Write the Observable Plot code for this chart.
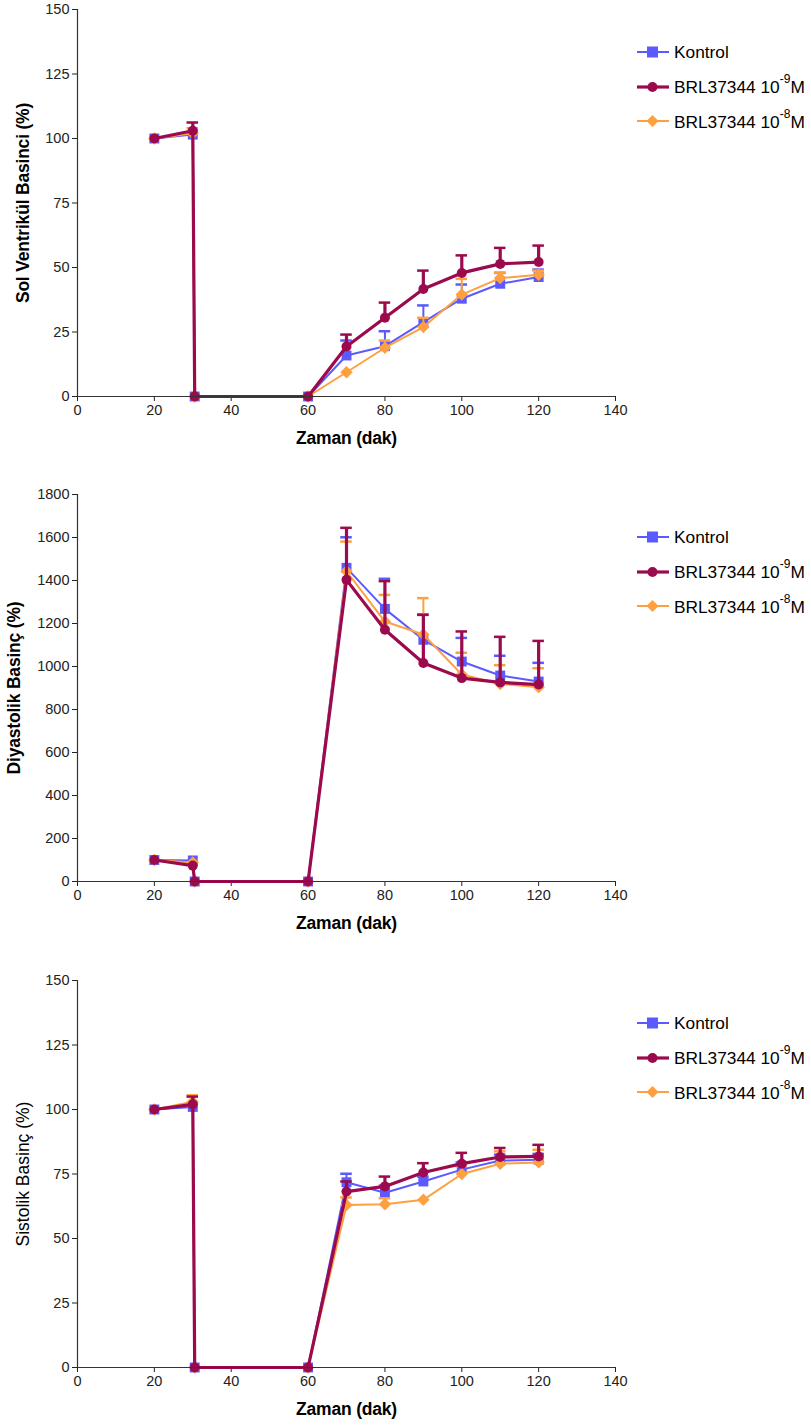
<!DOCTYPE html>
<html><head><meta charset="utf-8">
<script src="https://cdn.jsdelivr.net/npm/d3@7"></script>
<script src="https://cdn.jsdelivr.net/npm/@observablehq/plot@0.6"></script>
<style>
body{margin:0;background:#fff;font-family:"Liberation Sans",Arial,sans-serif;}
.chart{position:relative;width:811px;}
.chart svg{display:block;}
.legend{position:absolute;left:636px;top:35px;font-size:17.3px;color:#000;}
.item{display:flex;align-items:center;height:34.5px;white-space:nowrap;}
.item svg{margin-right:4px;}
.item sup{font-size:12px;position:relative;top:-3px;}
g[aria-label="y-axis label"] text, g[aria-label="x-axis label"] text{font-size:17.5px !important;font-weight:bold;fill:#000;letter-spacing:-0.2px;}
.light g[aria-label="y-axis label"] text{font-weight:normal;letter-spacing:0;}
</style>
</head><body>
<div id="root"></div>
<script>
// ---- data ----
const times = [20, 30, 30.5, 60, 70, 80, 90, 100, 110, 120];
const xTicks = [0, 20, 40, 60, 80, 100, 120, 140];
const seriesNames = ["Kontrol", "BRL37344 10-9M", "BRL37344 10-8M"];

// Chart 1: Sol Ventrikül Basinci (%)
const kontrol1    = [100, 101.5, 0, 0, 15.9, 19.5, 28.8, 37.9, 43.7, 46.3];
const kontrol1Err = [null, null, null, null, 21.7, 25.3, 35.3, 43.4, 47.9, 49.2];
const brl9_1      = [100, 103, 0, 0, 19.4, 30.5, 41.7, 47.9, 51.4, 52.1];
const brl9_1Err   = [null, 106.2, null, null, 24.0, 36.4, 48.8, 54.7, 57.6, 58.5];
const brl8_1      = [100, 102, 0, 0, 9.4, 18.9, 26.9, 39.5, 45.9, 47.2];
const brl8_1Err   = [null, 104, null, null, null, 21.7, 30.5, 45.6, 48.0, 48.8];
const yTicks1 = [0, 25, 50, 75, 100, 125, 150];

// Chart 2: Diyastolik Basinç (%)
const kontrol2    = [100, 98, 0, 0, 1459, 1268, 1124, 1023, 958, 930];
const kontrol2Err = [null, null, null, null, 1601, 1408, 1242, 1133, 1050, 1017];
const brl9_2      = [100, 74, 0, 0, 1403, 1171, 1016, 946, 926, 916];
const brl9_2Err   = [null, null, null, null, 1645, 1397, 1240, 1163, 1138, 1119];
const brl8_2      = [100, 88, 0, 0, 1443, 1209, 1149, 963, 919, 904];
const brl8_2Err   = [null, null, null, null, 1581, 1333, 1318, 1064, 1006, 992];
const yTicks2 = [0, 200, 400, 600, 800, 1000, 1200, 1400, 1600, 1800];

// Chart 3: Sistolik Basinç (%)
const kontrol3    = [100, 101, 0, 0, 71.8, 67.7, 72.1, 76.7, 80.2, 80.5];
const kontrol3Err = [null, null, null, null, 75.1, 70.5, 74.0, 79.5, 82.5, 82.8];
const brl9_3      = [100, 102, 0, 0, 68.2, 70.2, 75.6, 79.0, 81.6, 81.8];
const brl9_3Err   = [null, 105, null, null, 72.1, 74.0, 79.2, 83.2, 85.1, 86.3];
const brl8_3      = [100, 103, 0, 0, 63.0, 63.3, 65.0, 75.0, 79.0, 79.5];
const brl8_3Err   = [null, 105.5, null, null, 65.9, 65.6, null, 78.0, 83.8, 84.4];
const yTicks3 = [0, 25, 50, 75, 100, 125, 150];

// ---- styles ----
const colors = {"Kontrol": "#5a5aff", "BRL37344 10-9M": "#9b0a4c", "BRL37344 10-8M": "#ffa040"};
const symbols = {"Kontrol": "square", "BRL37344 10-9M": "circle", "BRL37344 10-8M": "diamond2"};
const widths = {"Kontrol": 2, "BRL37344 10-9M": 3.2, "BRL37344 10-8M": 2};
const radii = {"Kontrol": 5.6, "BRL37344 10-9M": 5, "BRL37344 10-8M": 5.6};
const drawOrder = ["Kontrol", "BRL37344 10-8M", "BRL37344 10-9M"];

function rowsOf(vals, errs, name) {
  return times.map((t, i) => ({x: t, y: vals[i], err: errs[i], series: name}));
}

function makeChart({data, yDomain, yTicks, ylabel, light, height, labelOffsetY}) {
  const marks = [];
  for (const name of drawOrder) {
    const rows = data[name];
    const errRows = rows.filter(d => d.err != null);
    const c = colors[name], w = widths[name];
    marks.push(Plot.ruleX(errRows, {x: "x", y1: "y", y2: "err", stroke: c, strokeWidth: w}));
    marks.push(Plot.ruleY(errRows, {y: "err", x1: d => d.x - 1.5, x2: d => d.x + 1.5, stroke: c, strokeWidth: 2.5}));
    marks.push(Plot.line(rows, {x: "x", y: "y", stroke: c, strokeWidth: w}));
    marks.push(Plot.dot(rows, {x: "x", y: "y", symbol: () => symbols[name], fill: c, r: radii[name], stroke: "none"}));
  }
  marks.push(Plot.ruleX([0], {stroke: "#333", strokeWidth: 1.2}));
  marks.push(Plot.ruleY([0], {stroke: "#333", strokeWidth: 1.2}));
  const svg = Plot.plot({
    width: 811, height,
    marginLeft: 77, marginRight: 196, marginTop: 9, marginBottom: height - 9 - 387,
    style: {fontFamily: "Liberation Sans, Arial, sans-serif", fontSize: "14.5px", color: "#222", background: "#fff"},
    x: {domain: [0, 140], ticks: xTicks, tickSize: 5, tickPadding: 3, tickFormat: d => String(d), label: "Zaman (dak)", labelAnchor: "center", labelArrow: "none", labelOffset: 47},
    y: {domain: yDomain, ticks: yTicks, tickSize: 5, tickPadding: 3, tickFormat: d => String(d), label: ylabel, labelAnchor: "center", labelArrow: "none", labelOffset: labelOffsetY},
    symbol: {type: "identity"},
    marks
  });
  const wrap = document.createElement("div");
  wrap.className = "chart" + (light ? " light" : "");
  wrap.appendChild(svg);
  const leg = document.createElement("div");
  leg.className = "legend";
  const labels = {"Kontrol": "Kontrol", "BRL37344 10-9M": "BRL37344 10<sup>-9</sup>M", "BRL37344 10-8M": "BRL37344 10<sup>-8</sup>M"};
  for (const name of seriesNames) {
    const c = colors[name];
    let mk;
    if (name === "Kontrol") mk = `<rect x="11" y="1.5" width="11" height="11" fill="${c}"/>`;
    else if (name === "BRL37344 10-9M") mk = `<circle cx="16.5" cy="7" r="5" fill="${c}"/>`;
    else mk = `<path d="M16.5,1 L22.5,7 L16.5,13 L10.5,7 Z" fill="${c}"/>`;
    const item = document.createElement("div");
    item.className = "item";
    item.innerHTML = `<svg width="34" height="14"><line x1="1" x2="33" y1="7" y2="7" stroke="${c}" stroke-width="${widths[name]}"/>${mk}</svg><span>${labels[name]}</span>`;
    leg.appendChild(item);
  }
  wrap.appendChild(leg);
  return wrap;
}

const root = document.getElementById("root");
root.appendChild(makeChart({
  data: {"Kontrol": rowsOf(kontrol1, kontrol1Err, "Kontrol"), "BRL37344 10-9M": rowsOf(brl9_1, brl9_1Err, "BRL37344 10-9M"), "BRL37344 10-8M": rowsOf(brl8_1, brl8_1Err, "BRL37344 10-8M")},
  yDomain: [0, 150], yTicks: yTicks1, ylabel: "Sol Ventrikül Basinci (%)", light: false, height: 485, labelOffsetY: 61
}));
root.appendChild(makeChart({
  data: {"Kontrol": rowsOf(kontrol2, kontrol2Err, "Kontrol"), "BRL37344 10-9M": rowsOf(brl9_2, brl9_2Err, "BRL37344 10-9M"), "BRL37344 10-8M": rowsOf(brl8_2, brl8_2Err, "BRL37344 10-8M")},
  yDomain: [0, 1800], yTicks: yTicks2, ylabel: "Diyastolik Basinç (%)", light: false, height: 486, labelOffsetY: 70
}));
root.appendChild(makeChart({
  data: {"Kontrol": rowsOf(kontrol3, kontrol3Err, "Kontrol"), "BRL37344 10-9M": rowsOf(brl9_3, brl9_3Err, "BRL37344 10-9M"), "BRL37344 10-8M": rowsOf(brl8_3, brl8_3Err, "BRL37344 10-8M")},
  yDomain: [0, 150], yTicks: yTicks3, ylabel: "Sistolik Basinç (%)", light: true, height: 455, labelOffsetY: 61
}));
</script>
</body></html>
